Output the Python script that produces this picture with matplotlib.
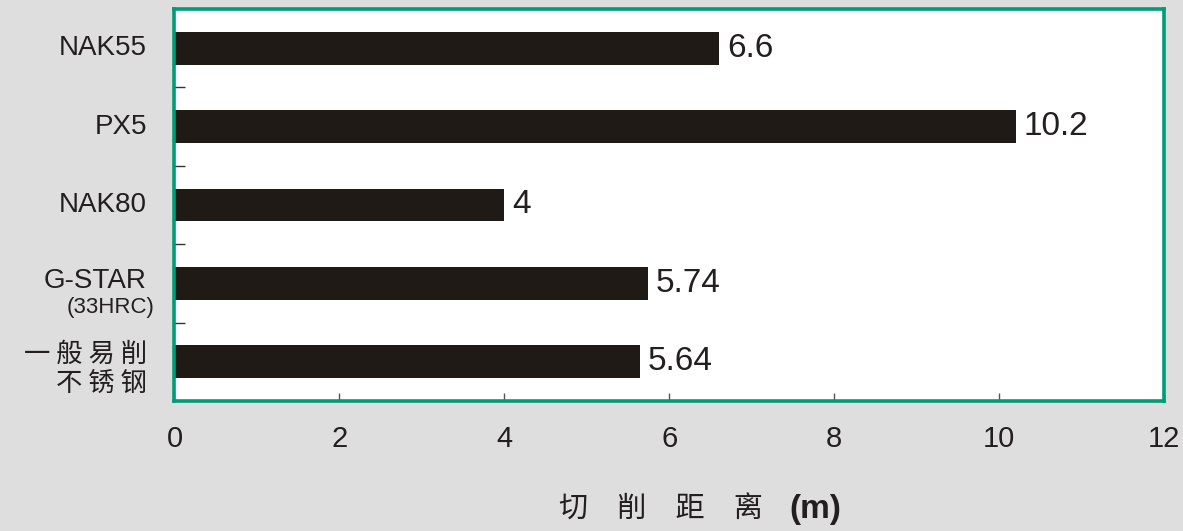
import matplotlib
matplotlib.use("Agg")
import matplotlib.pyplot as plt
from matplotlib import font_manager
from matplotlib.ticker import FixedLocator

# data
categories = ["NAK55", "PX5", "NAK80", "G-STAR", "一般易削"]
sublabels = ["", "", "", "(33HRC)", "不锈钢"]
values = [6.6, 10.2, 4, 5.74, 5.64]
value_labels = ["6.6", "10.2", "4", "5.74", "5.64"]
xticks = [0, 2, 4, 6, 8, 10, 12]

names = set(f.name for f in font_manager.fontManager.ttflist)
narrow = "Liberation Sans Narrow" if "Liberation Sans Narrow" in names else "Liberation Sans"
lab_size = 22 if narrow == "Liberation Sans Narrow" else 20
cjk = ["Noto Sans CJK SC", "DejaVu Sans"]
txt = "#231f20"
green = "#009b77"

fig = plt.figure(figsize=(11.83, 5.31), dpi=100, facecolor="#dedede")
ax = fig.add_axes([0.1475, 0.245, 0.8365, 0.738])
ax.set_facecolor("white")

y = list(range(len(categories)))
ax.barh(y, values, height=0.42, color="#201a17", zorder=2)
ax.set_ylim(4.5, -0.5)
ax.set_xlim(0, 12)

for s in ax.spines.values():
    s.set_color(green)
    s.set_linewidth(2.6)
    s.set_zorder(3)

ax.set_xticks(xticks)
ax.set_xticklabels([str(t) for t in xticks], family="Liberation Sans", fontsize=21, color=txt)
ax.tick_params(axis="x", direction="in", length=6, width=1, color="#555555", pad=17)
ax.set_yticks([])
ax.yaxis.set_minor_locator(FixedLocator([0.5, 1.5, 2.5, 3.5]))
ax.tick_params(axis="y", which="minor", direction="in", length=8, width=1, color="#333333")

# value labels
for i, (v, lab) in enumerate(zip(values, value_labels)):
    ax.text(v + 0.1, i, lab, va="center", ha="left", family="Liberation Sans",
            fontsize=24, color=txt)

# category labels
tr = ax.get_yaxis_transform()
for i, (c, sub) in enumerate(zip(categories, sublabels)):
    if i < 3:
        ax.text(-0.028, i, c, transform=tr, ha="right", va="center",
                family=narrow, fontsize=lab_size, color=txt)
    elif i == 3:
        ax.text(-0.028, i - 0.03, c, transform=tr, ha="right", va="center",
                family=narrow, fontsize=lab_size, color=txt)
        ax.text(-0.02, i + 0.31, sub, transform=tr, ha="right", va="center",
                family=narrow, fontsize=16, color=txt)
    else:
        ax.text(-0.028, i - 0.09, " ".join(c), transform=tr, ha="right", va="center",
                family=cjk, fontsize=19, color=txt)
        ax.text(-0.028, i + 0.28, " ".join(sub), transform=tr, ha="right", va="center",
                family=cjk, fontsize=19, color=txt)

# x axis title
fig.text(0.645, 0.04, "切\u3000削\u3000距\u3000离", ha="right", va="center",
         family=cjk, fontsize=21, color=txt)
fig.text(0.667, 0.04, "(m)", ha="left", va="center", family="Liberation Sans",
         fontsize=24, fontweight="bold", color=txt)

fig.savefig("out.png", dpi=100, facecolor=fig.get_facecolor())
